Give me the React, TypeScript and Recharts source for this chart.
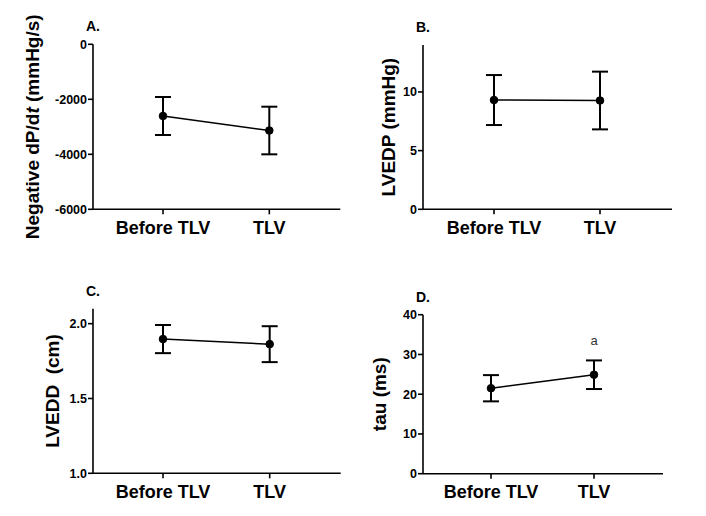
import React from 'react';
import { LineChart, Line, XAxis, YAxis, ErrorBar, LabelList } from 'recharts';

const categories = ['Before TLV', 'TLV'];

const dpdtMean = [-2607, -3135];
const dpdtErr = [691, 866];
const dpdtTicks = [-6000, -4000, -2000, 0];

const lvedpMean = [9.31, 9.27];
const lvedpErr = [2.13, 2.46];
const lvedpTicks = [0, 5, 10];

const lveddMean = [1.897, 1.863];
const lveddErr = [0.094, 0.12];
const lveddTicks = [1.0, 1.5, 2.0];

const tauMean = [21.5, 24.9];
const tauErr = [3.3, 3.6];
const tauSig = ['', 'a'];
const tauTicks = [0, 10, 20, 30, 40];

const FONT = '"Liberation Sans", Arial, Helvetica, sans-serif';

const build = (means: number[], errs: number[], sig?: string[]) =>
  categories.map((name, i) => ({ name, mean: means[i], err: errs[i], sig: sig ? sig[i] : '' }));

type PanelProps = {
  left: number;
  top: number;
  width: number;
  height: number;
  margin: { top: number; right: number; bottom: number; left: number };
  data: any[];
  domain: [number, number];
  ticks: number[];
  fmt?: (v: number) => string;
  pad: { left: number; right: number };
  letter: string;
  title: React.ReactNode;
  titleDx: number;
  withSig?: boolean;
};

const Panel = (p: PanelProps) => {
  const renderLabel = (props: any) => {
    const vb = props.viewBox || {};
    const plotLeft = vb.x + vb.width;
    const cy = vb.y + vb.height / 2;
    const bx = plotLeft + p.titleDx;
    return (
      <g>
        <text
          x={plotLeft - 7}
          y={vb.y - 13}
          fontSize={14}
          fontWeight="bold"
          fill="#000"
          fontFamily={FONT}
        >
          {p.letter}
        </text>
        <text
          x={bx}
          y={cy}
          transform={`rotate(-90, ${bx}, ${cy})`}
          textAnchor="middle"
          fontSize={19}
          fontWeight="bold"
          fill="#000"
          fontFamily={FONT}
        >
          {p.title}
        </text>
      </g>
    );
  };
  return (
    <div style={{ position: 'absolute', left: p.left, top: p.top }}>
      <LineChart width={p.width} height={p.height} data={p.data} margin={p.margin}>
        <XAxis
          dataKey="name"
          padding={p.pad}
          height={40}
          tickSize={5}
          tickMargin={7}
          axisLine={{ stroke: '#000', strokeWidth: 1.6 }}
          tickLine={{ stroke: '#000', strokeWidth: 1.6 }}
          tick={{ fontSize: 18, fontWeight: 'bold', fill: '#000', fontFamily: FONT }}
          interval={0}
        />
        <YAxis
          width={60}
          type="number"
          domain={p.domain}
          ticks={p.ticks}
          allowDataOverflow
          tickFormatter={p.fmt}
          tickSize={5}
          tickMargin={1}
          axisLine={{ stroke: '#000', strokeWidth: 1.6 }}
          tickLine={{ stroke: '#000', strokeWidth: 1.6 }}
          tick={{ fontSize: 12.5, fontWeight: 'bold', fill: '#000', fontFamily: FONT }}
          label={renderLabel}
        />
        <Line
          dataKey="mean"
          stroke="#000"
          strokeWidth={1.5}
          dot={{ r: 3.8, fill: '#000', stroke: '#000', strokeWidth: 1 }}
          activeDot={false}
          isAnimationActive={false}
        >
          <ErrorBar dataKey="err" width={8} stroke="#000" strokeWidth={2} direction="y" />
          {p.withSig ? (
            <LabelList
              dataKey="sig"
              position="top"
              offset={30}
              fill="#333"
              fontSize={13}
              fontFamily={FONT}
            />
          ) : null}
        </Line>
      </LineChart>
    </div>
  );
};

export default function App() {
  return (
    <div
      style={{
        position: 'absolute',
        left: 0,
        top: 0,
        width: 706,
        height: 516,
        background: '#fff',
        overflow: 'hidden',
      }}
    >
      <Panel
        left={0}
        top={0}
        width={353}
        height={258}
        margin={{ top: 44.3, right: 12.7, bottom: 8.7, left: 33 }}
        data={build(dpdtMean, dpdtErr)}
        domain={[-6000, 0]}
        ticks={dpdtTicks}
        pad={{ left: 70, right: 71 }}
        letter="A."
        title={
          <>
            Negative dP/d<tspan fontStyle="italic">t</tspan> (mmHg/s)
          </>
        }
        titleDx={-54}
      />
      <Panel
        left={353}
        top={0}
        width={353}
        height={258}
        margin={{ top: 45, right: 34, bottom: 8.7, left: 10 }}
        data={build(lvedpMean, lvedpErr)}
        domain={[0, 14]}
        ticks={lvedpTicks}
        pad={{ left: 71, right: 72 }}
        letter="B."
        title="LVEDP (mmHg)"
        titleDx={-27.5}
      />
      <Panel
        left={0}
        top={258}
        width={353}
        height={258}
        margin={{ top: 50.7, right: 12.3, bottom: 2.7, left: 33 }}
        data={build(lveddMean, lveddErr)}
        domain={[1, 2.1]}
        ticks={lveddTicks}
        fmt={(v: number) => v.toFixed(1)}
        pad={{ left: 70, right: 71 }}
        letter="C."
        title={'LVEDD\u00a0\u00a0(cm)'}
        titleDx={-34}
      />
      <Panel
        left={353}
        top={258}
        width={353}
        height={258}
        margin={{ top: 56.7, right: 43, bottom: 2.3, left: 10 }}
        data={build(tauMean, tauErr, tauSig)}
        domain={[0, 40]}
        ticks={tauTicks}
        pad={{ left: 68, right: 69 }}
        letter="D."
        title="tau (ms)"
        titleDx={-36.7}
        withSig
      />
    </div>
  );
}
